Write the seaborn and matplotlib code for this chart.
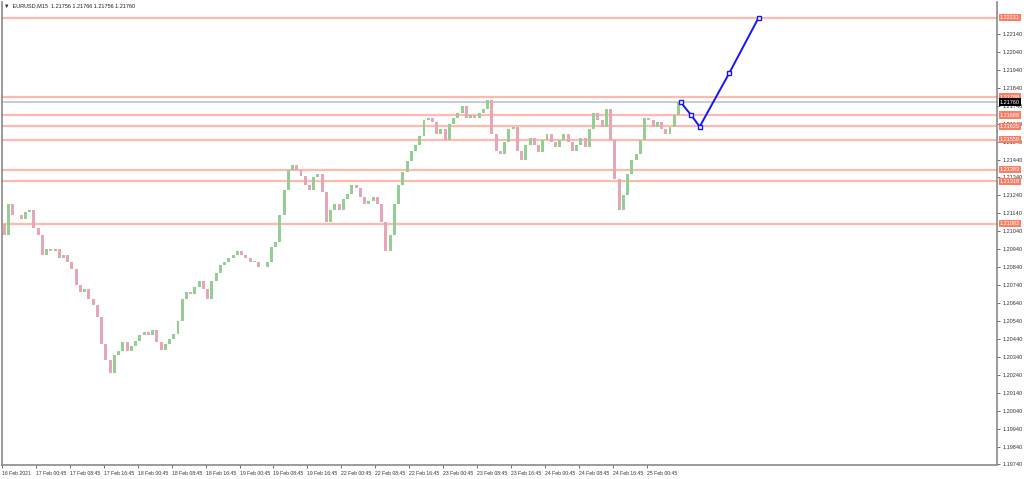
import numpy as np
import pandas as pd
import seaborn as sns
import matplotlib
import matplotlib.pyplot as plt
import matplotlib.transforms as mtransforms

matplotlib.use('Agg')

# Hourly closes (EURUSD, 16 Feb -> 25 Feb 2021)
closes = [
    1.2102, 1.2119, 1.2113, 1.2113, 1.2111, 1.2115, 1.2116, 1.2106, 1.2102, 1.2091,
    1.2094, 1.2093, 1.2094, 1.2089, 1.2091, 1.2087, 1.2083, 1.2074, 1.2070, 1.2072,
    1.2066, 1.2063, 1.2056, 1.2041, 1.2032, 1.2025, 1.2035, 1.2037, 1.2042, 1.2037,
    1.2040, 1.2043, 1.2046, 1.2048, 1.2046, 1.2049, 1.2042, 1.2038, 1.2041, 1.2044,
    1.2047, 1.2054, 1.2066, 1.2070, 1.2069, 1.2073, 1.2076, 1.2072, 1.2066, 1.2076,
    1.2081, 1.2085, 1.2087, 1.2089, 1.2091, 1.2093, 1.2091, 1.2089, 1.2087, 1.2087,
    1.2084, 1.2084, 1.2087, 1.2095, 1.2098, 1.2113, 1.2127, 1.2138, 1.2141, 1.2138,
    1.2135, 1.2130, 1.2127, 1.2134, 1.2136, 1.2126, 1.2109, 1.2116, 1.2119, 1.2116,
    1.2122, 1.2125, 1.2130, 1.2128, 1.2123, 1.2119, 1.2121, 1.2123, 1.2119, 1.2109,
    1.2093, 1.2102, 1.2119, 1.2130, 1.2137, 1.2143, 1.2149, 1.2152, 1.2157, 1.2166,
    1.2167, 1.2165, 1.2158, 1.2161, 1.2155, 1.2164, 1.2167, 1.2170, 1.2174, 1.2167,
    1.2169, 1.2167, 1.2170, 1.2172, 1.2177, 1.2158, 1.2149, 1.2147, 1.2154, 1.2161,
    1.2162, 1.2149, 1.2144, 1.2152, 1.2156, 1.2152, 1.2148, 1.2155, 1.2158, 1.2154,
    1.2151, 1.2155, 1.2158, 1.2154, 1.2149, 1.2152, 1.2156, 1.2151, 1.2161, 1.2170,
    1.2166, 1.2162, 1.2172, 1.2155, 1.2133, 1.2116, 1.2124, 1.2136, 1.2144, 1.2147,
    1.2155, 1.2167, 1.2166, 1.2162, 1.2165, 1.2161, 1.2158, 1.2162, 1.2169, 1.21760,
]
first_open = 1.2108

# projected path (blue zig-zag)
proj_x = [159.5, 161.9, 164.0, 171.0, 177.9]
proj_y = [1.21760, 1.21690, 1.21623, 1.21923, 1.22231]

# horizontal levels and their labels
levels = [1.22231, 1.21788, 1.21688, 1.21625, 1.21550, 1.21383, 1.21318, 1.21082]
current_price = 1.21760

y_ticks = [1.22140 - 0.001 * k for k in range(25)]
x_labels = ['16 Feb 2021', '17 Feb 00:45', '17 Feb 08:45', '17 Feb 16:45', '18 Feb 00:45',
            '18 Feb 08:45', '18 Feb 16:45', '19 Feb 00:45', '19 Feb 08:45', '19 Feb 16:45',
            '22 Feb 00:45', '22 Feb 08:45', '22 Feb 16:45', '23 Feb 00:45', '23 Feb 08:45',
            '23 Feb 16:45', '24 Feb 00:45', '24 Feb 08:45', '24 Feb 16:45', '25 Feb 00:45']

# candle table
opens = [first_open] + closes[:-1]
df = pd.DataFrame({'i': np.arange(len(closes)), 'open': opens, 'close': closes})
df['bottom'] = df[['open', 'close']].min(axis=1)
df['height'] = (df['close'] - df['open']).abs().clip(lower=0.00003)
df['color'] = np.where(df['close'] >= df['open'], '#93cf93', '#e6a6b6')

sns.set_style('white')
plt.rcParams['font.family'] = ['Liberation Sans', 'DejaVu Sans']
fs = 4

fig = plt.figure(figsize=(10.24, 4.79), dpi=100)
ax = fig.add_axes([2 / 1024, 14 / 479, 995 / 1024, 463 / 479])

# levels
for lv in levels:
    ax.axhline(lv, color='#ffb9ae', lw=1.6, zorder=1)
ax.axhline(current_price, color='#c8cbcf', lw=1.4, zorder=1)

ax.bar(df['i'], df['height'], bottom=df['bottom'], width=0.7, color=df['color'], linewidth=0, zorder=2)

proj = pd.DataFrame({'x': proj_x, 'y': proj_y})
sns.lineplot(data=proj, x='x', y='y', ax=ax, color='#1414ff', lw=1.4, marker='s',
             markersize=3.5, markerfacecolor='white', markeredgecolor='#1414ff',
             markeredgewidth=1, zorder=4, sort=False)

ax.set_xlim(-0.3, 234.1)
ax.set_ylim(1.19737, 1.22318)

ax.yaxis.tick_right()
ax.set_yticks(y_ticks)
ax.set_yticklabels(['{:.5f}'.format(v) for v in y_ticks], fontsize=fs, color='#333333')
ax.set_xticks([8 * k - 0.5 for k in range(len(x_labels))])
ax.set_xticklabels(x_labels, fontsize=3.7, color='#333333', ha='left')
ax.tick_params(axis='both', length=2.5, width=0.6, color='#555555', pad=1.5, direction='out')
ax.tick_params(axis='x', bottom=True)
ax.tick_params(axis='y', right=True, left=False)
ax.set_xlabel('')
ax.set_ylabel('')

for side in ['left', 'bottom', 'right']:
    ax.spines[side].set_color('#8a8a8a')
    ax.spines[side].set_linewidth(1.2)
ax.spines['top'].set_visible(False)

trans = mtransforms.blended_transform_factory(ax.transAxes, ax.transData)
for lv in levels:
    ax.text(1.003, lv, '{:.5f}'.format(lv), transform=trans, fontsize=fs, color='white',
            va='center', ha='left', zorder=6,
            bbox=dict(boxstyle='square,pad=0.2', fc='#fb7d64', ec='none'), clip_on=False)
ax.text(1.003, current_price, '{:.5f}'.format(current_price), transform=trans, fontsize=fs,
        color='white', va='center', ha='left', zorder=7,
        bbox=dict(boxstyle='square,pad=0.2', fc='black', ec='none'), clip_on=False)

fig.text(4 / 1024, 1 - 6 / 479, '\u25bc  EURUSD,M15  1.21756 1.21766 1.21756 1.21760',
         fontsize=fs, color='#222222', va='center', ha='left')

fig.savefig('out.png', dpi=100)
